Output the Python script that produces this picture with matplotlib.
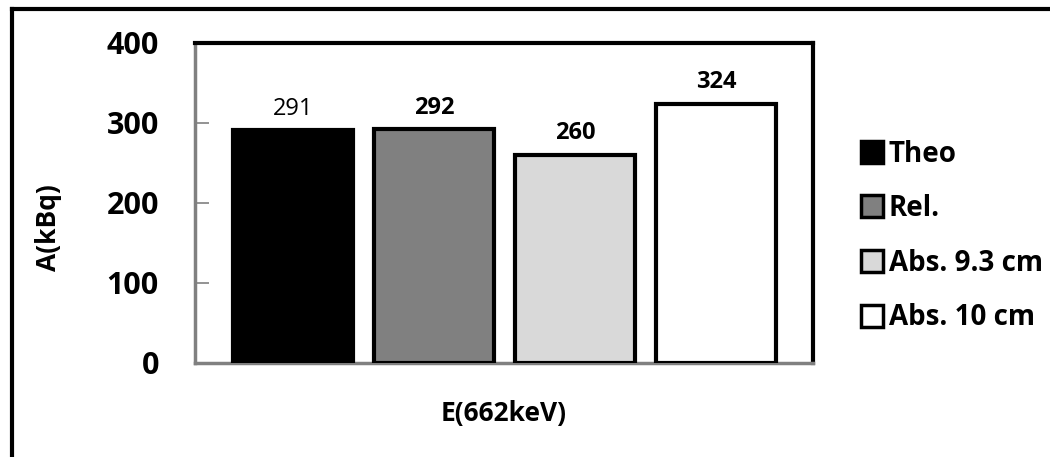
import matplotlib.pyplot as plt
from matplotlib.lines import Line2D

plt.rcParams['font.family'] = ['Open Sans', 'DejaVu Sans']

labels = ["Theo", "Rel.", "Abs. 9.3 cm", "Abs. 10 cm"]
activity = [291, 292, 260, 324]
colors = ["#000000", "#808080", "#d9d9d9", "#ffffff"]
yticks = [0, 100, 200, 300, 400]

fig = plt.figure(figsize=(10.5, 4.57), dpi=100)
ax = fig.add_axes([195 / 1050, 1 - 363 / 457, 618 / 1050, 320 / 457])

xpos = list(range(len(activity)))
ax.bar(xpos, activity, width=0.85, color=colors, edgecolor="black",
       linewidth=3, zorder=3)

for i, v in enumerate(activity):
    weight = "normal" if i == 0 else "bold"
    ax.text(xpos[i], v + 12, str(v), ha="center", va="bottom",
            fontsize=17, fontweight=weight)

ax.set_xlim(-0.695, 3.688)
ax.set_ylim(0, 400)
ax.set_yticks(yticks)
ax.set_yticklabels([str(t) for t in yticks], fontsize=22, fontweight="bold")
ax.set_xticks([])
ax.tick_params(axis="y", direction="in", length=10, width=1.2,
               color="#808080", pad=26)

for side in ["top", "right"]:
    ax.spines[side].set_color("black")
    ax.spines[side].set_linewidth(3)
for side in ["left", "bottom"]:
    ax.spines[side].set_color("#808080")
    ax.spines[side].set_linewidth(2.5)

fig.text(48 / 1050, 1 - 228 / 457, "A(kBq)", rotation=90, ha="center",
         va="center", fontsize=19, fontweight="bold")
fig.text(504 / 1050, 1 - 414 / 457, "E(662keV)", ha="center", va="center",
         fontsize=19, fontweight="bold")

handles = [Line2D([], [], marker="s", linestyle="none", markersize=16,
                  markerfacecolor=c, markeredgecolor="black",
                  markeredgewidth=2.5) for c in colors]
leg = fig.legend(handles, labels, loc="center left",
                 bbox_to_anchor=(836 / 1050, 1 - 236 / 457), frameon=False,
                 handlelength=0.8, handletextpad=0.2, labelspacing=0.92,
                 prop={"size": 20, "weight": "bold"})

# outer frame (left and top edges)
fig.add_artist(Line2D([12 / 1050, 12 / 1050], [0, 1 - 9 / 457],
                      transform=fig.transFigure, color="black", linewidth=3))
fig.add_artist(Line2D([12 / 1050, 1], [1 - 9 / 457, 1 - 9 / 457],
                      transform=fig.transFigure, color="black", linewidth=3))

fig.savefig("out.png", dpi=100)
